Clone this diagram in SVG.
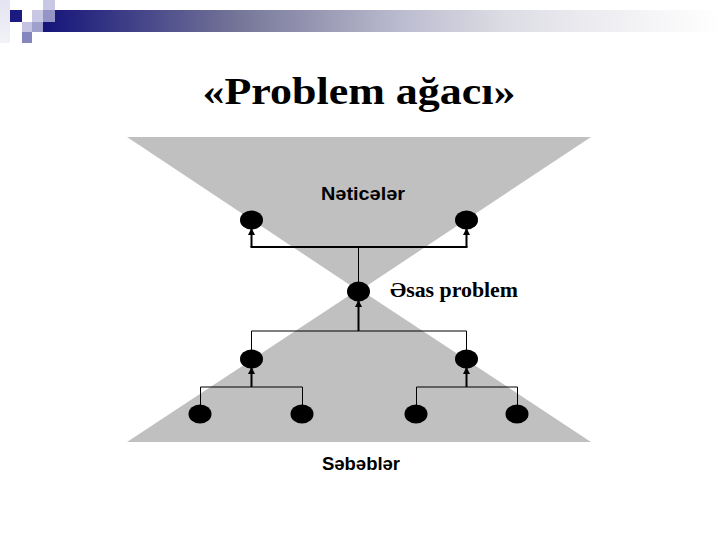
<svg xmlns="http://www.w3.org/2000/svg" width="720" height="540" viewBox="0 0 720 540">
<style>
.tri{fill:#c0c0c0}
.node{fill:#000}
.thin{stroke:#000;stroke-width:1;fill:none}
.thick{stroke:#000;stroke-width:2;fill:none}
.arrow{stroke:#000;stroke-width:2;fill:none;marker-end:url(#ah)}
.lbl{font-family:"Liberation Sans",Arial,sans-serif;font-size:19px;font-weight:bold;fill:#000}
.serif{font-family:"Liberation Serif","Times New Roman",serif;fill:#000;font-weight:bold}
</style>
<defs>
<marker id="ah" markerUnits="userSpaceOnUse" markerWidth="8" markerHeight="8" viewBox="0 0 8 8" refX="7" refY="4" orient="auto">
<path d="M0,0.5 L7,4 L0,7.5 z" fill="#000"/>
</marker>
<linearGradient id="bar" x1="0" y1="0" x2="1" y2="0">
<stop offset="0" stop-color="#14147a"/>
<stop offset="0.29" stop-color="#767699"/>
<stop offset="0.53" stop-color="#bcbcd0"/>
<stop offset="0.68" stop-color="#dcdce4"/>
<stop offset="0.83" stop-color="#eeeef2"/>
<stop offset="1" stop-color="#ffffff"/>
</linearGradient>
<linearGradient id="col" x1="0" y1="0" x2="0" y2="1">
<stop offset="0" stop-color="#e4e4f2"/>
<stop offset="1" stop-color="#f2f2f8"/>
</linearGradient>
</defs>
<g id="decor">
<rect x="43" y="10" width="677" height="22" fill="url(#bar)"/>
<rect x="0" y="0" width="10" height="43" fill="url(#col)"/>
<rect x="10" y="10" width="12" height="12" fill="#1a1a80"/>
<rect x="22" y="22" width="10" height="10" fill="#c4c4e2"/>
<rect x="32" y="10" width="11" height="12" fill="#c8c8e4"/>
<rect x="32" y="22" width="11" height="10" fill="#a0a0cc"/>
<rect x="22" y="32" width="10" height="11" fill="#8686be"/>
<rect x="43" y="0" width="12" height="10" fill="#c8c8e4"/>
<rect x="43" y="10" width="12" height="12" fill="#9494c6"/>
</g>
<text id="title" class="serif" x="359" y="104" font-size="38" text-anchor="middle" textLength="313" lengthAdjust="spacingAndGlyphs">«Problem ağacı»</text>
<g id="background">
<polygon class="tri" points="127,137 591,137 359,291"/>
<polygon class="tri" points="359,289 127,442 591,442"/>
</g>
<g id="connectors">
<line class="thin" x1="358.5" y1="283" x2="358.5" y2="247"/>
<line class="thick" x1="250.5" y1="247" x2="467.5" y2="247"/>
<line class="arrow" x1="251.5" y1="247" x2="251.5" y2="228"/>
<line class="arrow" x1="466.5" y1="247" x2="466.5" y2="228"/>
<line class="arrow" x1="358.5" y1="331" x2="358.5" y2="300"/>
<line class="thin" x1="251.5" y1="331" x2="466.5" y2="331"/>
<line class="thin" x1="251.5" y1="331" x2="251.5" y2="351"/>
<line class="thin" x1="466.5" y1="331" x2="466.5" y2="351"/>
<line class="arrow" x1="251.5" y1="387" x2="251.5" y2="367"/>
<line class="thin" x1="200.5" y1="387" x2="302.5" y2="387"/>
<line class="thin" x1="200.5" y1="387" x2="200.5" y2="406"/>
<line class="thin" x1="302.5" y1="387" x2="302.5" y2="406"/>
<line class="arrow" x1="466.5" y1="387" x2="466.5" y2="367"/>
<line class="thin" x1="416.5" y1="387" x2="517.5" y2="387"/>
<line class="thin" x1="416.5" y1="387" x2="416.5" y2="406"/>
<line class="thin" x1="517.5" y1="387" x2="517.5" y2="406"/>
</g>
<g id="n-result-left"><ellipse class="node" cx="251.5" cy="220" rx="11.5" ry="9.5"/></g>
<g id="n-result-right"><ellipse class="node" cx="466.5" cy="220" rx="11.5" ry="9.5"/></g>
<g id="n-main"><ellipse class="node" cx="358.5" cy="291.5" rx="11.5" ry="10"/></g>
<g id="n-cause-left"><ellipse class="node" cx="251.5" cy="359" rx="11.5" ry="9.5"/></g>
<g id="n-cause-right"><ellipse class="node" cx="466.5" cy="359" rx="11.5" ry="9.5"/></g>
<g id="n-leaf-1"><ellipse class="node" cx="200" cy="414" rx="11.5" ry="9.5"/></g>
<g id="n-leaf-2"><ellipse class="node" cx="302" cy="414" rx="11.5" ry="9.5"/></g>
<g id="n-leaf-3"><ellipse class="node" cx="416" cy="414" rx="11.5" ry="9.5"/></g>
<g id="n-leaf-4"><ellipse class="node" cx="517" cy="414" rx="11.5" ry="9.5"/></g>
<g id="labels">
<text class="lbl" x="321" y="200" textLength="84" lengthAdjust="spacingAndGlyphs">Nəticələr</text>
<text class="serif" x="390" y="297" font-size="22" textLength="128" lengthAdjust="spacingAndGlyphs">Əsas problem</text>
<text class="lbl" x="322" y="470" textLength="78" lengthAdjust="spacingAndGlyphs">Səbəblər</text>
</g>
</svg>
